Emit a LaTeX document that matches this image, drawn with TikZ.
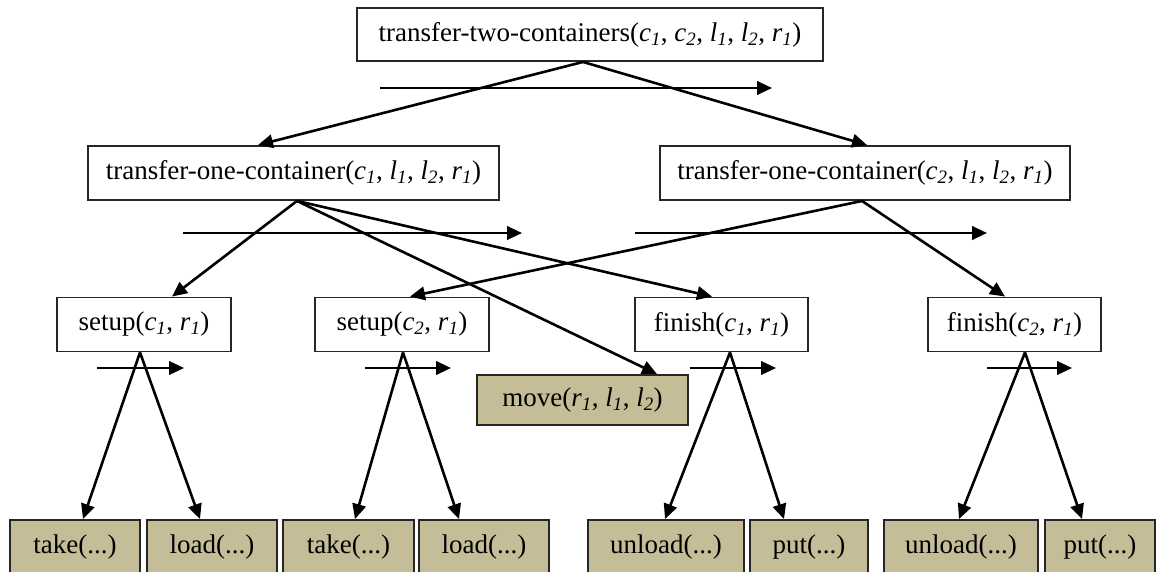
\documentclass[tikz,border=0pt]{standalone}
\usepackage{fontspec}
\setmainfont{Liberation Serif}
\usetikzlibrary{arrows.meta}
\definecolor{leaffill}{HTML}{C4BD97}
\newcommand\pv[2]{\textit{#1}\textsubscript{\textit{#2}}}

\begin{document}
\begin{tikzpicture}[x=1pt,y=-1pt,
  task/.style={draw=black!85, line width=1.9pt, fill=white, inner sep=0pt,
    minimum height=54pt, font=\fontsize{27}{30}\selectfont},
  prim/.style={task, fill=leaffill},
  arr/.style={line width=2.6pt, -{Triangle[length=15pt,width=13.5pt]}},
]
\useasboundingbox (0,0) rectangle (1163,572);
\clip (0,0) rectangle (1163,572);

% compound tasks
\node[task, minimum width=466pt, minimum height=53pt] (t2) at (590,34.5)
  {transfer-two-containers(\pv{c}{1}, \pv{c}{2}, \pv{l}{1}, \pv{l}{2}, \pv{r}{1})};
\node[task, minimum width=411pt] (ta) at (293.5,173)
  {transfer-one-container(\pv{c}{1}, \pv{l}{1}, \pv{l}{2}, \pv{r}{1})};
\node[task, minimum width=410pt] (tb) at (865,173)
  {transfer-one-container(\pv{c}{2}, \pv{l}{1}, \pv{l}{2}, \pv{r}{1})};
\node[task, minimum width=174pt] (s1) at (144,324.5) {setup(\pv{c}{1}, \pv{r}{1})};
\node[task, minimum width=174pt] (s2) at (402,324.5) {setup(\pv{c}{2}, \pv{r}{1})};
\node[task, minimum width=173pt] (f1) at (721.5,324.5) {finish(\pv{c}{1}, \pv{r}{1})};
\node[task, minimum width=173pt] (f2) at (1014.5,324.5) {finish(\pv{c}{2}, \pv{r}{1})};

% primitive actions
\node[prim, minimum width=211pt, minimum height=50pt] (mv) at (582.5,400)
  {move(\pv{r}{1}, \pv{l}{1}, \pv{l}{2})};
\node[prim, minimum width=130pt] (k1) at (75,547) {take(...)};
\node[prim, minimum width=130pt] (d1) at (212,547) {load(...)};
\node[prim, minimum width=131pt] (k2) at (348.5,547) {take(...)};
\node[prim, minimum width=130pt] (d2) at (484,547) {load(...)};
\node[prim, minimum width=156pt] (u1) at (666,547) {unload(...)};
\node[prim, minimum width=118pt] (p1) at (809,547) {put(...)};
\node[prim, minimum width=154pt] (u2) at (961,547) {unload(...)};
\node[prim, minimum width=110pt] (p2) at (1100,547) {put(...)};

% ordering arrows beneath each method
\coordinate (o0a) at (380,88);   \coordinate (o0b) at (772,88);
\coordinate (o1a) at (183,233);  \coordinate (o1b) at (522,233);
\coordinate (o2a) at (635,233);  \coordinate (o2b) at (987,233);
\coordinate (o3a) at (97,368);   \coordinate (o3b) at (184,368);
\coordinate (o4a) at (365,368);  \coordinate (o4b) at (451,368);
\coordinate (o5a) at (690,368);  \coordinate (o5b) at (776,368);
\coordinate (o6a) at (987,368);  \coordinate (o6b) at (1072,368);
\foreach \i in {0,...,6} \draw[arr] (o\i a) -- (o\i b);

% decomposition edges
\draw[arr] ([xshift=-7pt]t2.south) -- ([xshift=-35.5pt]ta.north);
\draw[arr] ([xshift=-7pt]t2.south) -- ([xshift=2pt]tb.north);

\draw[arr] ([xshift=3.5pt]ta.south) -- ([xshift=28pt]s1.north);
\draw[arr] ([xshift=3.5pt]ta.south) -- ([xshift=74.5pt]mv.north);
\draw[arr] ([xshift=3.5pt]ta.south) -- ([xshift=-9.5pt]f1.north);
\draw[arr] ([xshift=-3pt]tb.south) -- ([xshift=8pt]s2.north);
\draw[arr] ([xshift=-3pt]tb.south) -- ([xshift=-9.5pt]f2.north);

\draw[arr] ([xshift=-4pt]s1.south) -- ([xshift=8pt]k1.north);
\draw[arr] ([xshift=-4pt]s1.south) -- ([xshift=-12pt]d1.north);
\draw[arr] ([xshift=1pt]s2.south) -- ([xshift=6.5pt]k2.north);
\draw[arr] ([xshift=1pt]s2.south) -- ([xshift=-25pt]d2.north);
\draw[arr] ([xshift=8.5pt]f1.south) -- ([xshift=-1pt]u1.north);
\draw[arr] ([xshift=8.5pt]f1.south) -- ([xshift=-25pt]p1.north);
\draw[arr] ([xshift=10.5pt]f2.south) -- ([xshift=-2pt]u2.north);
\draw[arr] ([xshift=10.5pt]f2.south) -- ([xshift=-18pt]p2.north);
\end{tikzpicture}
\end{document}
